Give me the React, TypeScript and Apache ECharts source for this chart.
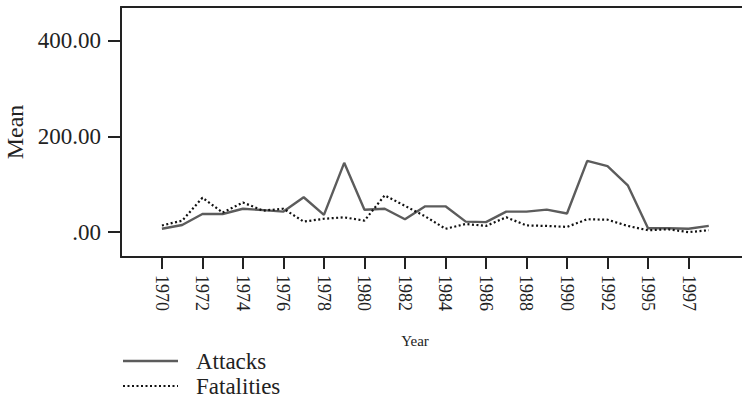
import React, { useEffect, useRef } from "react";
import * as echarts from "echarts";

const years = [
  "1970", "1971", "1972", "1973", "1974", "1975", "1976", "1977", "1978", "1979",
  "1980", "1981", "1982", "1983", "1984", "1985", "1986", "1987", "1988", "1989",
  "1990", "1991", "1992", "1994", "1995", "1996", "1997", "1998",
];
const attacks = [
  7, 15, 38, 38, 49, 46, 43, 73, 36, 145,
  47, 49, 27, 54, 54, 22, 21, 43, 43, 47,
  39, 149, 138, 98, 8, 8, 7, 13,
];
const fatalities = [
  14, 24, 72, 41, 62, 45, 49, 22, 28, 31,
  24, 77, 55, 33, 7, 17, 13, 31, 14, 13,
  11, 27, 26, 13, 4, 6, 0, 4,
];
const seriesNames = ["Attacks", "Fatalities"];
const yTicks = [0, 200, 400];
const xTickIdx = [0, 2, 4, 6, 8, 10, 12, 14, 16, 18, 20, 22, 24, 26];

const FONT = "Liberation Serif";
const INK = "#222";
const ATT_COLOR = "#5c5c5c";
const FAT_COLOR = "#111";
const FAT_DASH = [2, 2.5];

export default function App() {
  const ref = useRef<HTMLDivElement>(null);
  useEffect(() => {
    document.body.style.margin = "0";
    const chart = echarts.init(ref.current!, null, { renderer: "svg" });
    const axisLine = { show: true, onZero: false, lineStyle: { color: INK, width: 2 } };
    chart.setOption({
      animation: false,
      grid: {
        left: 121,
        top: 7,
        right: 0,
        bottom: 147,
        containLabel: false,
        outerBoundsMode: "none",
      },
      graphic: [
        {
          type: "line",
          shape: { x1: 123, y1: 361, x2: 178, y2: 361 },
          style: { stroke: ATT_COLOR, lineWidth: 2.4 },
        },
        {
          type: "text",
          x: 196,
          y: 361,
          style: { text: seriesNames[0], fontFamily: FONT, fontSize: 23, fill: INK, verticalAlign: "middle" },
        },
        {
          type: "line",
          shape: { x1: 123, y1: 386, x2: 178, y2: 386 },
          style: { stroke: FAT_COLOR, lineWidth: 2.2, lineDash: FAT_DASH },
        },
        {
          type: "text",
          x: 196,
          y: 386,
          style: { text: seriesNames[1], fontFamily: FONT, fontSize: 23, fill: INK, verticalAlign: "middle" },
        },
      ],
      xAxis: [
        {
          type: "value",
          min: -2.02,
          max: 28.64,
          name: "Year",
          nameLocation: "middle",
          nameGap: 76,
          nameTextStyle: { fontFamily: FONT, fontSize: 15, color: INK, padding: [0, 33, 0, 0] },
          axisLine,
          splitLine: { show: false },
          axisTick: {
            show: true,
            length: 12,
            inside: false,
            customValues: xTickIdx,
            lineStyle: { color: INK, width: 2 },
          },
          axisLabel: {
            customValues: xTickIdx,
            rotate: -90,
            margin: 18,
            fontFamily: FONT,
            fontSize: 18,
            color: INK,
            formatter: (v: number) => years[Math.round(v)] ?? "",
          },
        },
        {
          type: "value",
          position: "top",
          min: -2.02,
          max: 28.64,
          axisLine,
          axisTick: { show: false },
          axisLabel: { show: false },
          splitLine: { show: false },
        },
      ],
      yAxis: {
        type: "value",
        min: -52,
        max: 471,
        name: "Mean",
        nameLocation: "middle",
        nameGap: 94,
        nameRotate: 90,
        nameTextStyle: { fontFamily: FONT, fontSize: 24, color: INK },
        axisLine,
        splitLine: { show: false },
        axisTick: {
          show: true,
          length: 13,
          customValues: yTicks,
          lineStyle: { color: INK, width: 2 },
        },
        axisLabel: {
          customValues: yTicks,
          margin: 20,
          fontFamily: FONT,
          fontSize: 23,
          color: INK,
          formatter: (v: number) => (v === 0 ? ".00" : v.toFixed(2)),
        },
      },
      series: [
        {
          name: seriesNames[0],
          type: "line",
          symbol: "none",
          data: attacks.map((v, i) => [i, v]),
          lineStyle: { color: ATT_COLOR, width: 2.4 },
          itemStyle: { color: ATT_COLOR },
        },
        {
          name: seriesNames[1],
          type: "line",
          symbol: "none",
          data: fatalities.map((v, i) => [i, v]),
          lineStyle: { color: FAT_COLOR, width: 2.2, type: FAT_DASH },
          itemStyle: { color: FAT_COLOR },
        },
      ],
    });
    return () => chart.dispose();
  }, []);
  return (
    <div
      ref={ref}
      style={{ width: 742, height: 404, background: "#fff", fontFamily: "'Liberation Serif', serif" }}
    />
  );
}
